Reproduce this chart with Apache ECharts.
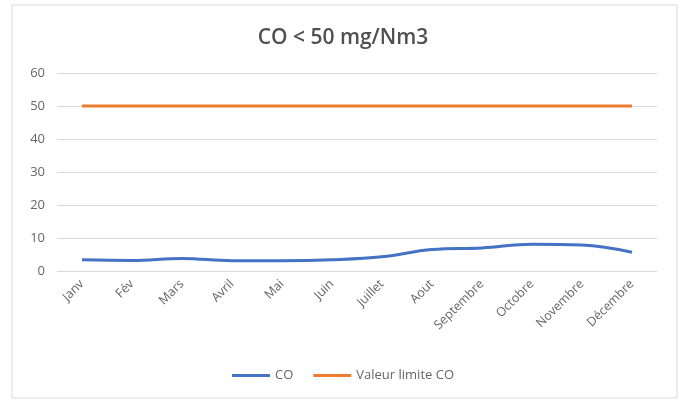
<!DOCTYPE html>
<html><head><meta charset="utf-8">
<script src="https://cdn.jsdelivr.net/npm/echarts@6/dist/echarts.min.js"></script>
<style>html,body{margin:0;padding:0;background:#fff}#c{width:686px;height:401px}</style>
</head><body><div id="c"></div>
<script>
const categories = ['Janv','Fév','Mars','Avril','Mai','Juin','Juillet','Aout','Septembre','Octobre','Novembre','Décembre'];
const coValues = [3.4, 3.2, 3.8, 3.1, 3.1, 3.4, 4.3, 6.5, 7.0, 8.1, 7.9, 5.7];
const limitValues = [50,50,50,50,50,50,50,50,50,50,50,50];
const yTicks = {min:0, max:60, interval:10};

const chart = echarts.init(document.getElementById('c'));
chart.setOption({
  animation:false,
  graphic:[{type:'rect',shape:{x:12,y:5,width:665,height:393},style:{fill:'none',stroke:'#d9d9d9',lineWidth:1}}],
  title:{text:'CO < 50 mg/Nm3',left:'center',top:23,textStyle:{fontFamily:'Open Sans',fontSize:21,fontWeight:600,color:'#505050'}},
  grid:{left:57,right:29,top:73,bottom:130},
  legend:{bottom:14,left:'center',itemWidth:38,itemHeight:3,itemGap:20,icon:'rect',
    textStyle:{fontFamily:'Open Sans',fontSize:13,color:'#666666'},
    data:['CO','Valeur limite CO']},
  xAxis:{type:'category',data:categories,boundaryGap:true,
    axisLine:{show:false},axisTick:{show:false},
    axisLabel:{rotate:45,color:'#666666',fontFamily:'Open Sans',fontSize:12.5,margin:11,interval:0}},
  yAxis:{type:'value',min:yTicks.min,max:yTicks.max,interval:yTicks.interval,
    axisLine:{show:false},axisTick:{show:false},
    axisLabel:{color:'#666666',fontFamily:'Open Sans',fontSize:13,margin:12},
    splitLine:{lineStyle:{color:'#d9d9d9',width:1}}},
  series:[
    {name:'CO',type:'line',data:coValues,smooth:0.4,symbol:'none',lineStyle:{color:'#4472C4',width:3},itemStyle:{color:'#4472C4'}},
    {name:'Valeur limite CO',type:'line',data:limitValues,symbol:'none',lineStyle:{color:'#ED7D31',width:3},itemStyle:{color:'#ED7D31'}}
  ]
});
</script></body></html>
